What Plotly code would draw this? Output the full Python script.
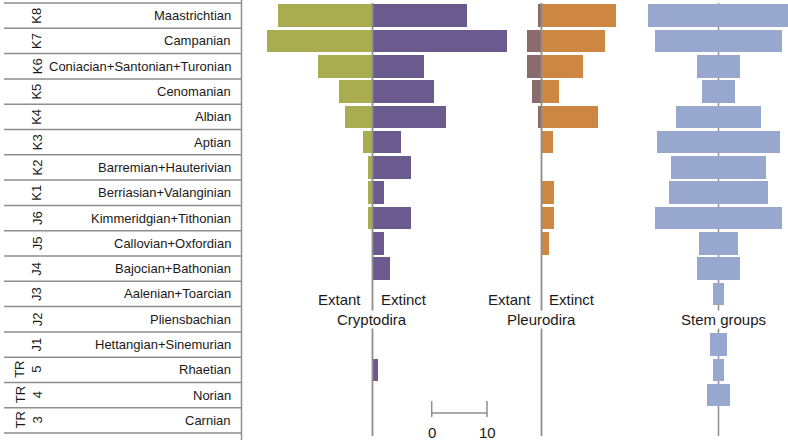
import plotly.graph_objects as go

# ---------------- data ----------------
stages = ["Maastrichtian", "Campanian", "Coniacian+Santonian+Turonian", "Cenomanian",
          "Albian", "Aptian", "Barremian+Hauterivian", "Berriasian+Valanginian",
          "Kimmeridgian+Tithonian", "Callovian+Oxfordian", "Bajocian+Bathonian",
          "Aalenian+Toarcian", "Pliensbachian", "Hettangian+Sinemurian",
          "Rhaetian", "Norian", "Carnian"]
codes = ["K8", "K7", "K6", "K5", "K4", "K3", "K2", "K1",
         "J6", "J5", "J4", "J3", "J2", "J1", "5", "4", "3"]
code_prefix = [""] * 14 + ["TR", "TR", "TR"]

crypto_extant = [17, 19.1, 9.9, 6.0, 5.0, 1.8, 0.9, 0.9, 0.9, 0, 0, 0, 0, 0, 0, 0, 0]
crypto_extinct = [17, 24.3, 9.3, 11.1, 13.2, 5.2, 7.0, 2.1, 7.0, 2.1, 3.2, 0, 0, 0, 1.0, 0, 0]
pleuro_extant = [0.7, 2.6, 2.6, 1.8, 0.7, 0, 0, 0, 0, 0, 0, 0, 0, 0, 0, 0, 0]
pleuro_extinct = [13.4, 11.5, 7.5, 3.1, 10.3, 2.1, 0, 2.3, 2.3, 1.3, 0, 0, 0, 0, 0, 0, 0]
stem_groups = [25.4, 23.1, 7.8, 6.1, 15.2, 22.4, 17.2, 18.0, 23.1, 6.9, 7.9, 1.9, 0, 3.1, 2.0, 4.2, 0]

# ---------------- layout helpers ----------------
W, H = 788, 446
PXU = 5.53          # pixels per unit
ROW0, ROWH = 3, 25.3
n = len(stages)

def px(x):
    return x / W

def py(y):
    return 1 - y / H

def row_of(ypx):
    return (ypx - ROW0) / ROWH - 0.5

def xrange_for(left, right, zero):
    return [(left - zero) / PXU, (right - zero) / PXU]

GRAY = "#8e8e8e"
OLIVE = "#a9ac4f"
PURPLE = "#6b5a8e"
BROWN = "#8a6b6e"
ORANGE = "#cd8742"
BLUE = "#97a7cd"
FONT = "Liberation Sans, Arial, Helvetica, sans-serif"

fig = go.Figure()
BW = 0.89

fig.add_trace(go.Bar(y=stages, x=[-v for v in crypto_extant], orientation="h",
                     marker=dict(color=OLIVE, line=dict(width=0)), width=BW,
                     xaxis="x", yaxis="y", name="Cryptodira extant"))
fig.add_trace(go.Bar(y=stages, x=crypto_extinct, orientation="h",
                     marker=dict(color=PURPLE, line=dict(width=0)), width=BW,
                     xaxis="x", yaxis="y", name="Cryptodira extinct"))
fig.add_trace(go.Bar(y=stages, x=[-v for v in pleuro_extant], orientation="h",
                     marker=dict(color=BROWN, line=dict(width=0)), width=BW,
                     xaxis="x2", yaxis="y", name="Pleurodira extant"))
fig.add_trace(go.Bar(y=stages, x=pleuro_extinct, orientation="h",
                     marker=dict(color=ORANGE, line=dict(width=0)), width=BW,
                     xaxis="x2", yaxis="y", name="Pleurodira extinct"))
fig.add_trace(go.Bar(y=stages, x=stem_groups, base=[-v / 2 for v in stem_groups],
                     orientation="h",
                     marker=dict(color=BLUE, line=dict(width=0)), width=BW,
                     xaxis="x3", yaxis="y", name="Stem groups"))

C_ZERO, P_ZERO, S_ZERO = 372.5, 541.5, 718.5
ax_common = dict(showgrid=False, zeroline=False, showticklabels=False,
                 ticks="", showline=False, fixedrange=True)

shapes = []
# table horizontal lines
for i in range(n + 1):
    shapes.append(dict(type="line", xref="paper", yref="y", x0=px(4), x1=px(241.5),
                       y0=i - 0.5, y1=i - 0.5, line=dict(color=GRAY, width=1.5)))
# table vertical line
shapes.append(dict(type="line", xref="paper", yref="paper", x0=px(241.5), x1=px(241.5),
                   y0=py(0), y1=py(440), line=dict(color=GRAY, width=1.5)))
# panel centre lines
y_top, y_bot = row_of(3), row_of(436)
shapes.append(dict(type="line", xref="x", yref="y", x0=0, x1=0, y0=y_top, y1=y_bot,
                   line=dict(color=GRAY, width=1.8), layer="above"))
shapes.append(dict(type="line", xref="x2", yref="y", x0=0, x1=0, y0=y_top, y1=y_bot,
                   line=dict(color=GRAY, width=1.8), layer="above"))
shapes.append(dict(type="line", xref="x3", yref="y", x0=0, x1=0, y0=y_top, y1=y_bot,
                   line=dict(color=GRAY, width=1.5), layer="below"))
# scale bar (10 units on the Cryptodira axis)
sb0 = (431.7 - C_ZERO) / PXU
sb1 = sb0 + 10
shapes.append(dict(type="line", xref="x", yref="paper", x0=sb0, x1=sb1,
                   y0=py(413), y1=py(413), line=dict(color=GRAY, width=1.5)))
for xv in (sb0, sb1):
    shapes.append(dict(type="line", xref="x", yref="paper", x0=xv, x1=xv,
                       y0=py(401), y1=py(417), line=dict(color=GRAY, width=1.5)))

ann = []
for s, c, p in zip(stages, codes, code_prefix):
    ann.append(dict(text=s, xref="paper", yref="y", x=px(233), y=s, xanchor="right",
                    yanchor="middle", showarrow=False, font=dict(size=13, color="#1a1a1a")))
    ann.append(dict(text=c, xref="paper", yref="y", x=px(37), y=s, textangle=-90,
                    xanchor="center", yanchor="middle", showarrow=False,
                    font=dict(size=13, color="#1a1a1a")))
    if p:
        ann.append(dict(text=p, xref="paper", yref="y", x=px(20), y=s, textangle=-90,
                        xanchor="center", yanchor="middle", showarrow=False,
                        font=dict(size=13, color="#1a1a1a")))

lab_font = dict(size=15, color="#1a1a1a")
def lab(text, x, y, xanchor="center", bg=None):
    d = dict(text=text, xref="paper", yref="paper", x=px(x), y=py(y), xanchor=xanchor,
             yanchor="middle", showarrow=False, font=lab_font, borderpad=0)
    if bg:
        d["bgcolor"] = bg
    return d

ann += [
    lab("Extant", 362, 299, "right"),
    lab("Extinct", 380, 299, "left"),
    lab("Cryptodira", 372, 319, "center", "white"),
    lab("Extant", 532, 299, "right"),
    lab("Extinct", 548, 299, "left"),
    lab("Pleurodira", 541, 319, "center", "white"),
    lab("Stem groups", 723, 319, "center", "white"),
]
for xv, t in ((sb0, "0"), (sb1, "10")):
    ann.append(dict(text=t, xref="x", yref="paper", x=xv, y=py(432), xanchor="center",
                    yanchor="middle", showarrow=False, font=lab_font))

fig.update_layout(
    width=W, height=H, margin=dict(l=0, r=0, t=0, b=0),
    paper_bgcolor="white", plot_bgcolor="white",
    barmode="overlay", bargap=0, showlegend=False,
    font=dict(family=FONT),
    xaxis=dict(domain=[px(245), px(520)], range=xrange_for(245, 520, C_ZERO), **ax_common),
    xaxis2=dict(domain=[px(520), px(632)], range=xrange_for(520, 632, P_ZERO), anchor="y", **ax_common),
    xaxis3=dict(domain=[px(632), 1], range=xrange_for(632, 788, S_ZERO), anchor="y", **ax_common),
    yaxis=dict(domain=[0, 1], type="category", categoryorder="array", categoryarray=stages,
               range=[row_of(446), row_of(0)], **ax_common),
    shapes=shapes, annotations=ann,
)

fig.write_html(
    "out.html",
    config={"displayModeBar": False},
    post_script="document.body.style.margin='0';document.body.style.padding='0';"
                "document.documentElement.style.overflow='hidden';",
)
